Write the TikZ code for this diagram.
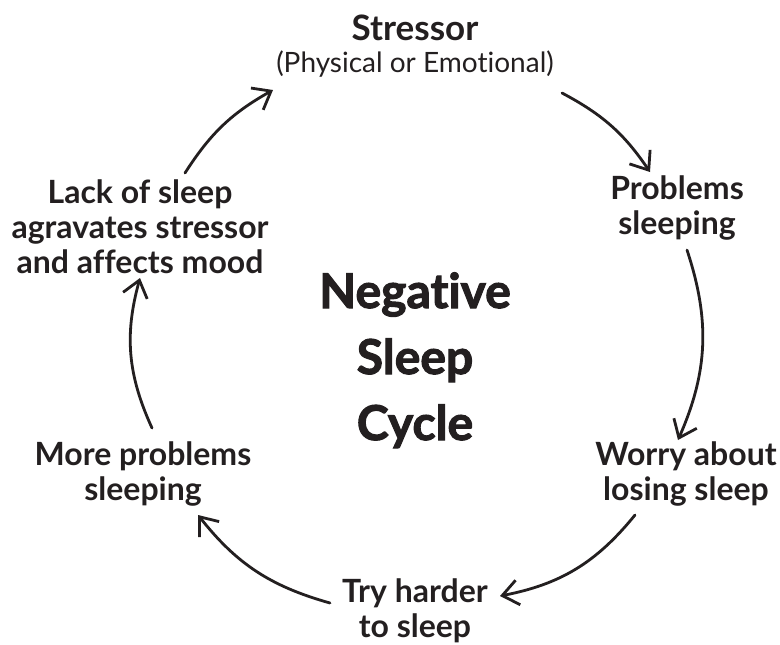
\documentclass[tikz,border=0pt]{standalone}
\usepackage{fontspec}
\setmainfont{Lato}[Ligatures={NoCommon}]
\newfontfamily\heavyfont{Lato}[Ligatures={NoCommon}, BoldFeatures={FakeBold=2.2}]
\usetikzlibrary{arrows.meta}
\definecolor{ink}{HTML}{231F20}

\begin{document}
\begin{tikzpicture}[x=1pt, y=-1pt, color=ink,
  stage/.style={font=\fontsize{32}{35}\selectfont\bfseries, align=center, anchor=base, inner sep=0pt},
  note/.style={font=\fontsize{28}{32}\selectfont, anchor=base, inner sep=0pt},
  core/.style={font=\heavyfont\fontsize{48}{66}\selectfont\bfseries, align=center, anchor=base, inner sep=0pt},
  flow/.style={-{Straight Barb[length=16pt, width=25pt]}, line width=2.8pt, line cap=round}
]
\useasboundingbox (0,0) rectangle (780,645);

% labels (anchored at the baseline of their last line)
\node[stage, font=\fontsize{35}{37}\selectfont\bfseries] (stressor) at (415,40) {Stressor};
\node[note] (physical) at (415,72) {(Physical or Emotional)};
\node[stage] (problems) at (677,234) {Problems\\sleeping};
\node[stage] (worry) at (686,500) {Worry about\\losing sleep};
\node[stage] (harder) at (415,637) {Try harder\\to sleep};
\node[stage] (more) at (143,500) {More problems\\sleeping};
\node[stage] (lack) at (140,273) {Lack of sleep\\agravates stressor\\and affects mood};
\node[core] (cycle) at (415,440) {Negative\\Sleep\\Cycle};

% ends of the arrows round the cycle
\coordinate (p1) at (562,93);  \coordinate (q1) at (650,172);
\coordinate (p2) at (687,250); \coordinate (q2) at (678,440);
\coordinate (p3) at (635,515); \coordinate (q3) at (500,596);
\coordinate (p4) at (330,603); \coordinate (q4) at (198,515);
\coordinate (p5) at (152,428); \coordinate (q5) at (140,278);
\coordinate (p6) at (185,173); \coordinate (q6) at (273,90);

\draw[flow] (p1) to[bend left=14] (q1);
\draw[flow] (p2) to[bend left=21] (q2);
\draw[flow] (p3) to[bend left=20] (q3);
\draw[flow] (p4) to[bend left=18] (q4);
\draw[flow] (p5) to[bend left=20] (q5);
\draw[flow] (p6) to[bend left=14] (q6);
\end{tikzpicture}
\end{document}
